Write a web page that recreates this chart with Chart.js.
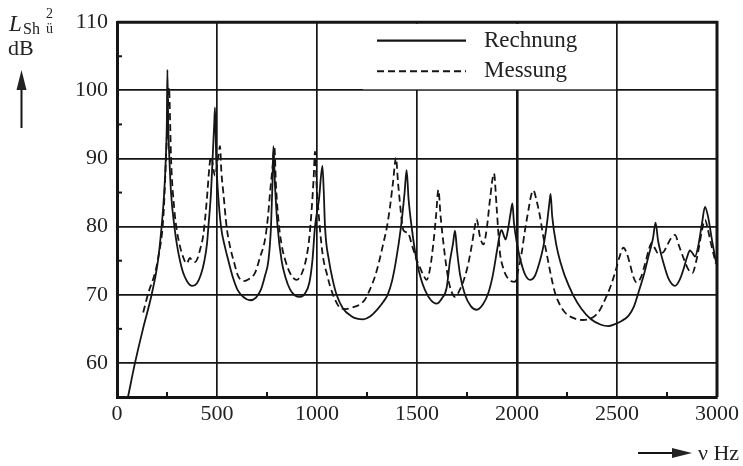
<!DOCTYPE html>
<html lang="de">
<head>
<meta charset="UTF-8">
<title>Rechnung / Messung</title>
<script src="https://cdn.jsdelivr.net/npm/chart.js"></script>
<style>
	html, body { margin: 0; padding: 0; background: #fff; }
	#wrap { width: 743px; height: 466px; }
</style>
</head>
<body>
<div id="wrap"><canvas id="chart" width="743" height="466"></canvas></div>
<script>
// Rechnung (solid line): frequency in Hz, level in dB
const freqRechnung = [55, 90, 130, 173, 205, 223, 236, 244, 249, 252,
	256, 262, 270, 287, 300, 315, 330, 350, 376, 400, 420, 437, 450, 457, 470, 478, 486, 490,
	496, 505, 520, 540, 557, 580, 605, 635, 665, 695, 720, 740, 757, 770, 777, 782,
	790, 803, 823, 843, 865, 890, 915, 940, 962, 977, 990, 1010, 1027,
	1034, 1040, 1060, 1080, 1098, 1130, 1170, 1200, 1232, 1265, 1300, 1330, 1353, 1375, 1395, 1420, 1438, 1448,
	1458, 1473, 1498, 1520, 1540, 1570, 1598, 1625, 1648, 1665, 1680, 1690,
	1700, 1715, 1740, 1770, 1798, 1830, 1857, 1880, 1900, 1915, 1923, 1935, 1943, 1955, 1968, 1977,
	1985, 2000, 2020, 2040, 2065, 2090, 2110, 2132, 2150, 2162, 2168,
	2176, 2198, 2220, 2240, 2280, 2323, 2370, 2420, 2457, 2490, 2525, 2557, 2585, 2607, 2635, 2657, 2680, 2693,
	2705, 2720, 2732, 2757, 2790, 2815, 2832, 2850, 2865, 2880, 2890, 2905, 2925, 2940, 2955, 2975, 2995];
const levelRechnung = [55, 60, 65, 70, 75, 80, 85, 90, 95, 103,
	95, 90, 85, 80, 77.3, 75, 73.3, 72, 71.3, 71.7, 73, 75, 77.5, 80, 85, 90, 95, 97.5,
	90, 85, 80, 77, 75, 72.5, 70.6, 69.6, 69.2, 69.6, 70.8, 72.8, 75, 80, 86, 91.8,
	86, 80, 75, 72.5, 70.8, 69.9, 69.7, 70.2, 71.8, 75, 80, 84, 88.9,
	85, 80, 75, 72, 70, 68, 66.9, 66.5, 66.4, 66.8, 67.8, 68.9, 70, 72, 75, 80, 85, 88.3,
	84, 80, 75, 72.3, 70.7, 69.2, 68.7, 69.5, 71, 75, 77.5, 79.4,
	76.5, 73, 70, 68.3, 67.8, 68.6, 70.3, 73, 76.5, 79, 79.5, 78.6, 78.1, 79.6, 82, 83.4,
	80.5, 77.5, 74.8, 73, 72.2, 72.8, 74.5, 77.1, 80.5, 83.5, 84.8,
	81.5, 77.1, 74.5, 72.7, 70, 67.9, 66.4, 65.6, 65.4, 65.7, 66.2, 66.9, 68.3, 70.3, 73, 75.6, 78.3, 80.6,
	78, 76, 74.7, 72.4, 71.3, 72.3, 73.7, 75.5, 76.5, 76, 75.6, 77, 80.5, 82.9, 81.5, 78, 74.8];

// Messung (dashed line)
const freqMessung = [131, 157, 190, 207, 232, 248, 260,
	266, 270, 287, 300, 315, 330, 348, 365, 375, 390, 405, 415, 430, 440, 452, 462, 470, 490, 505, 515,
	522, 532, 548, 565, 585, 605, 632, 660, 690, 715, 740, 755, 765, 777, 787,
	795, 807, 822, 840, 865, 898, 925, 948, 962, 973, 983, 990,
	998, 1007, 1020, 1032, 1050, 1065, 1090, 1115, 1145, 1173, 1210, 1240, 1265, 1290, 1310, 1332, 1350, 1365, 1380, 1395,
	1405, 1415, 1425, 1432, 1445, 1457, 1470, 1482, 1500, 1515, 1530, 1548, 1565, 1582, 1595, 1607,
	1618, 1632, 1645, 1657, 1672, 1690, 1715, 1740, 1758, 1773, 1788, 1798, 1815, 1832, 1850, 1865, 1885,
	1898, 1907, 1915, 1930, 1948, 1970, 1990, 2005, 2023, 2040, 2057, 2070, 2082,
	2098, 2115, 2130, 2148, 2170, 2190, 2215, 2240, 2290, 2330, 2365, 2390, 2415, 2440, 2465, 2490, 2512, 2532,
	2550, 2565, 2582, 2598, 2620, 2640, 2658, 2673, 2690, 2705, 2730, 2750, 2770, 2790,
	2810, 2835, 2855, 2877, 2895, 2910, 2925, 2940, 2955, 2970, 2995];
const levelMessung = [67.4, 70.3, 73.2, 75.6, 81.5, 92.2, 100.4,
	95, 90.2, 82.4, 79.3, 77.1, 75.6, 74.6, 75.4, 75, 74.8, 75.5, 76.6, 78.5, 81, 85, 88.8, 90.3, 87.5, 90, 91.8,
	88, 84.9, 80, 77.1, 74.8, 72.8, 72, 72.3, 73.2, 75.5, 78.1, 81.5, 84.9, 88.5, 91.6,
	86, 81, 77.5, 75.2, 73.2, 72.2, 73.2, 75.6, 78.5, 82.4, 87, 91,
	86, 82.4, 78, 75.2, 73, 71.3, 69.3, 68.1, 67.9, 68.1, 68.5, 69.3, 70.8, 72.7, 74.8, 77.6, 80, 82.9, 86.5, 90.1,
	86.5, 83.4, 80.5, 79.5, 79.2, 79, 77.8, 76.6, 75, 74, 73, 72.2, 73.8, 77.6, 81.5, 85.4,
	81.5, 77.6, 74.5, 72.2, 70.5, 69.7, 70.8, 72.7, 74.8, 77.1, 79.8, 81.1, 78.5, 77.4, 80, 84, 87.8,
	82.9, 79, 76.1, 74, 72.7, 72, 71.9, 73.5, 76.1, 79.5, 82.4, 84.5, 85.3,
	83.8, 81.5, 78.8, 76.1, 72.8, 70.3, 68.5, 67.4, 66.5, 66.3, 66.5, 66.9, 67.8, 69.3, 71, 73.2, 75.5, 76.9,
	76, 74.5, 72.6, 71.8, 72.6, 74.5, 76.5, 77.6, 76.8, 76.1, 76.2, 77.2, 78.3, 78.8,
	77.2, 75.2, 73.8, 73.2, 74.8, 77, 79.5, 81, 79.5, 77.5, 74.5];

const xTicks = [0, 500, 1000, 1500, 2000, 2500, 3000];
const yTicks = [60, 70, 80, 90, 100, 110];
const xMinorTicks = [250, 750, 1250, 1750, 2250, 2750];
const yMinorTicks = [65, 75, 85, 95, 105];
const seriesNames = ['Rechnung', 'Messung'];

const INK = '#151515';
const SERIF = '"Liberation Serif", "DejaVu Serif", serif';

function toPoints(xs, ys) {
	return xs.map((x, i) => ({x: x, y: ys[i]}));
}

// white legend box inside the plot, covering the grid like in the print
const innerLegend = {
	id: 'innerLegend',
	beforeDatasetsDraw(chart) {
		const {ctx, scales: {x, y}, chartArea} = chart;
		ctx.save();
		ctx.fillStyle = '#fff';
		const left = x.getPixelForValue(1230);
		const right = x.getPixelForValue(2500) - 1;
		ctx.fillRect(left, chartArea.top + 1.5, right - left, y.getPixelForValue(100) - chartArea.top - 2.5);

		const x0 = x.getPixelForValue(1300), x1 = x.getPixelForValue(1745);
		const rows = [y.getPixelForValue(107.3), y.getPixelForValue(102.8)];
		ctx.strokeStyle = INK;
		ctx.lineWidth = 2.2;
		rows.forEach((ry, i) => {
			ctx.setLineDash(i === 1 ? [7, 4] : []);
			ctx.beginPath();
			ctx.moveTo(x0, ry);
			ctx.lineTo(x1, ry);
			ctx.stroke();
		});
		ctx.setLineDash([]);
		ctx.fillStyle = '#222';
		ctx.font = '23px ' + SERIF;
		ctx.textBaseline = 'middle';
		rows.forEach((ry, i) => ctx.fillText(seriesNames[i], x.getPixelForValue(1835), ry));
		ctx.restore();
	}
};

// frame on top/right, inner minor ticks, axis captions
const frameAndLabels = {
	id: 'frameAndLabels',
	afterDraw(chart) {
		const {ctx, scales: {x, y}, chartArea: a} = chart;
		ctx.save();
		ctx.strokeStyle = INK;
		ctx.lineWidth = 3;
		ctx.beginPath();
		ctx.moveTo(a.left, a.top);
		ctx.lineTo(a.right, a.top);
		ctx.lineTo(a.right, a.bottom);
		ctx.stroke();

		ctx.lineWidth = 2;
		xMinorTicks.forEach(v => {
			const px = x.getPixelForValue(v);
			ctx.beginPath();
			ctx.moveTo(px, a.bottom);
			ctx.lineTo(px, a.bottom - 5);
			ctx.stroke();
		});
		yMinorTicks.forEach(v => {
			const py = y.getPixelForValue(v);
			ctx.beginPath();
			ctx.moveTo(a.left, py);
			ctx.lineTo(a.left + 5, py);
			ctx.stroke();
		});

		// y caption: L_Sh ü^2 / dB with arrow
		ctx.fillStyle = '#222';
		ctx.textBaseline = 'alphabetic';
		ctx.font = 'italic 23px ' + SERIF;
		ctx.fillText('L', 9, 31);
		ctx.font = '16px ' + SERIF;
		ctx.fillText('Sh', 23, 34);
		ctx.font = '14px ' + SERIF;
		ctx.fillText('2', 46, 18);
		ctx.fillText('ü', 46, 33);
		ctx.font = '22px ' + SERIF;
		ctx.fillText('dB', 8, 55);

		ctx.lineWidth = 2;
		ctx.beginPath();
		ctx.moveTo(21.5, 128);
		ctx.lineTo(21.5, 86);
		ctx.stroke();
		ctx.beginPath();
		ctx.moveTo(21.5, 70);
		ctx.lineTo(26.5, 90);
		ctx.lineTo(16.5, 90);
		ctx.closePath();
		ctx.fill();

		// x caption: arrow + ν Hz
		ctx.beginPath();
		ctx.moveTo(638, 453);
		ctx.lineTo(675, 453);
		ctx.stroke();
		ctx.beginPath();
		ctx.moveTo(692, 453);
		ctx.lineTo(672, 448);
		ctx.lineTo(672, 458);
		ctx.closePath();
		ctx.fill();
		ctx.font = '22px ' + SERIF;
		ctx.fillText('ν Hz', 698, 460);
		ctx.restore();
	}
};

new Chart(document.getElementById('chart'), {
	type: 'line',
	data: {
		datasets: [{
			label: seriesNames[0],
			data: toPoints(freqRechnung, levelRechnung),
			borderColor: INK,
			borderWidth: 1.8,
			pointRadius: 0,
			cubicInterpolationMode: 'monotone'
		}, {
			label: seriesNames[1],
			data: toPoints(freqMessung, levelMessung),
			borderColor: INK,
			borderWidth: 1.8,
			borderDash: [7, 4],
			pointRadius: 0,
			cubicInterpolationMode: 'monotone'
		}]
	},
	options: {
		responsive: false,
		animation: false,
		events: [],
		layout: {padding: {top: 21, right: 25, left: 0, bottom: 0}},
		plugins: {legend: {display: false}, tooltip: {enabled: false}},
		scales: {
			x: {
				type: 'linear',
				min: 0,
				max: 3000,
				afterBuildTicks: s => { s.ticks = xTicks.map(v => ({value: v})); },
				afterFit: s => { s.height = 69; },
				grid: {
					color: INK,
					lineWidth: c => (c.tick && c.tick.value === 2000 ? 2.6 : 1.7),
					drawTicks: false
				},
				border: {display: true, width: 3, color: INK},
				ticks: {
					color: '#222',
					padding: 4,
					maxRotation: 0,
					font: {family: SERIF, size: 22},
					callback: v => String(v)
				}
			},
			y: {
				min: 55,
				max: 110,
				afterBuildTicks: s => { s.ticks = yTicks.map(v => ({value: v})); },
				afterFit: s => { s.width = 117; },
				grid: {color: INK, lineWidth: 1.7, drawTicks: false},
				border: {display: true, width: 3, color: INK},
				ticks: {
					color: '#222',
					padding: 9,
					font: {family: SERIF, size: 22},
					callback: v => String(v)
				}
			}
		}
	},
	plugins: [innerLegend, frameAndLabels]
});
</script>
</body>
</html>
